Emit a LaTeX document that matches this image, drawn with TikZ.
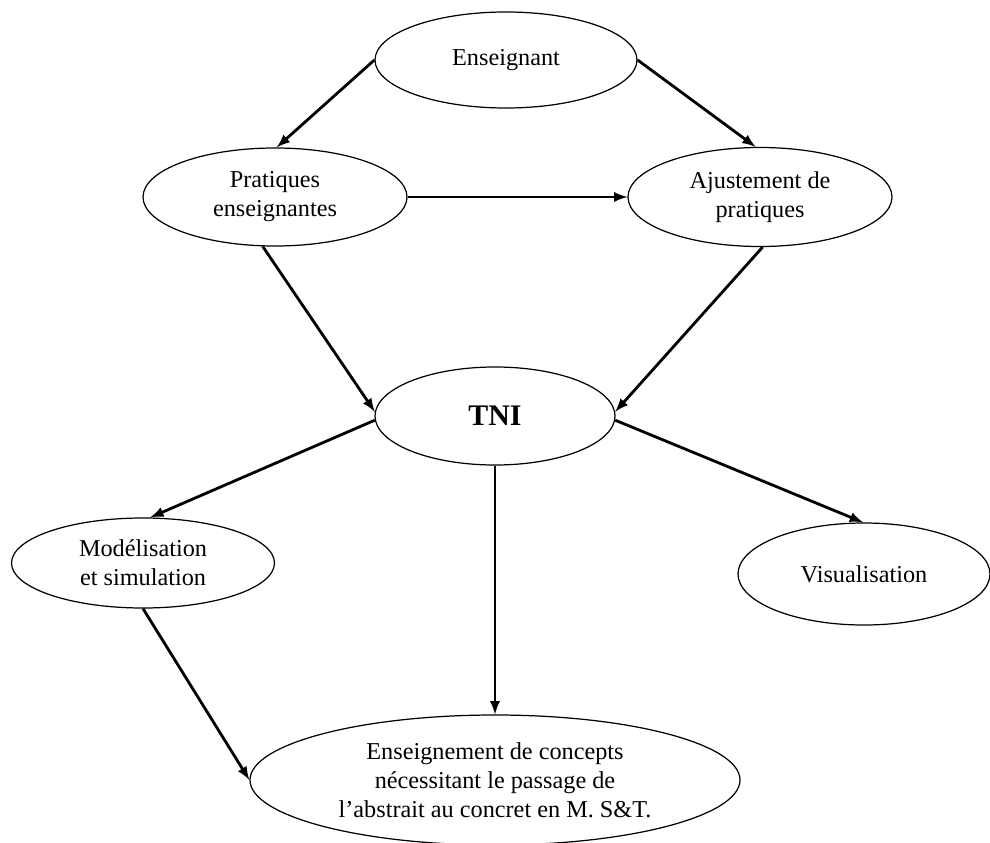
\documentclass[tikz,border=0pt]{standalone}
\usepackage{fontspec}
\setmainfont{Liberation Serif}
\usetikzlibrary{shapes.geometric}

\begin{document}
\begin{tikzpicture}[
  bulle/.style={draw,ellipse,line width=0.7pt,inner sep=0pt,align=center,font=\fontsize{13.8}{16.5}\selectfont},
  fleche/.style={-latex,line width=1.6pt}]

\useasboundingbox (0,0) rectangle (19.8,-16.86);

\node[bulle,minimum width=5.24cm,minimum height=1.92cm] (ens) at (10.12,-1.20) {Enseignant};
\node[bulle,minimum width=5.28cm,minimum height=1.96cm] (prat) at (5.50,-3.94) {Pratiques\\enseignantes};
\node[bulle,minimum width=5.28cm,minimum height=1.98cm] (ajust) at (15.20,-3.94) {Ajustement de\\pratiques};
\node[bulle,minimum width=4.80cm,minimum height=1.96cm,font=\fontsize{17}{20}\selectfont\bfseries] (tni) at (9.90,-8.32) {TNI};
\node[bulle,minimum width=5.26cm,minimum height=1.80cm] (model) at (2.86,-11.26) {Mod\'elisation\\et simulation};
\node[bulle,minimum width=5.04cm,minimum height=2.04cm] (visu) at (17.28,-11.48) {Visualisation};
\node[bulle,minimum width=9.80cm,minimum height=2.60cm] (enseig) at (9.90,-15.60) {Enseignement de concepts\\n\'ecessitant le passage de\\l'abstrait au concret en M. S\&T.};

\draw [fleche] (ens.180) -- (prat.88);
\draw [fleche] (ens.0) -- (ajust.95);
\draw [fleche] (prat.0) -- (ajust.180);
\draw [fleche] (prat.256) -- (tni.178);
\draw [fleche] (ajust.-87) -- (tni.2);
\draw [fleche] (tni.182) -- (model.81);
\draw [fleche] (tni.south) -- (enseig.north);
\draw [fleche] (tni.358) -- (visu.91);
\draw [fleche] (model.south) -- (enseig.180);

\end{tikzpicture}
\end{document}
